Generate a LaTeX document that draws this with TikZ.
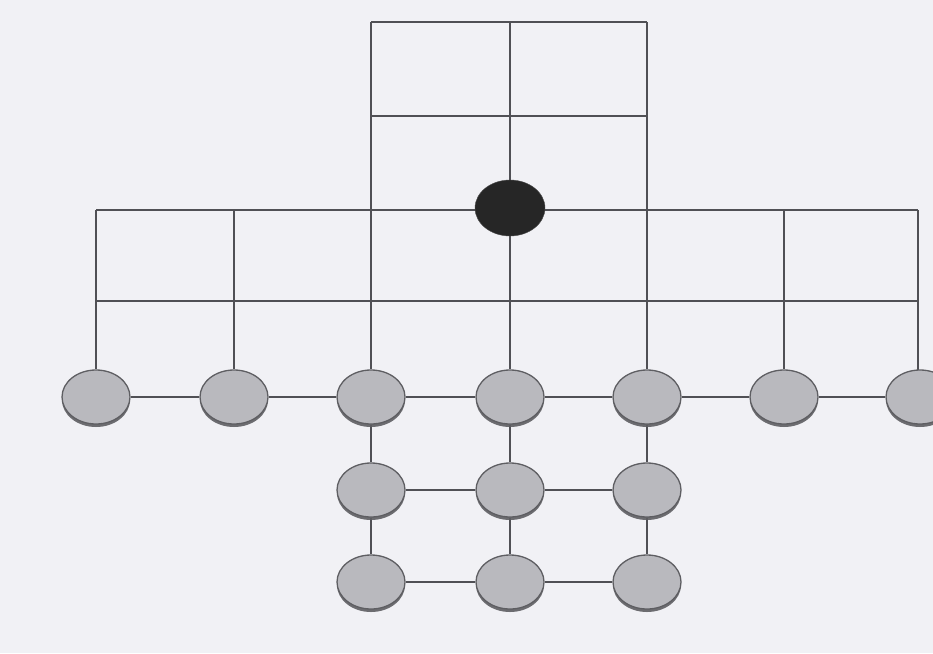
\documentclass[tikz,border=0pt]{standalone}
\usetikzlibrary{shapes.geometric,shadows,backgrounds}
\definecolor{bgc}{HTML}{F1F1F5}
\definecolor{linec}{HTML}{505055}
\definecolor{nodefill}{HTML}{B9B9BE}
\definecolor{nodeedge}{HTML}{5E5E62}
\begin{document}
\begin{tikzpicture}[x=1pt,y=-1pt,
  conn/.style={draw=linec,line width=1.1pt},
  graynode/.style={ellipse,minimum width=68pt,minimum height=54pt,inner sep=0pt,
    fill=nodefill,draw=nodeedge,line width=1.3pt,
    drop shadow={shadow xshift=0pt,shadow yshift=-3pt,fill=nodeedge,opacity=0.9}},
  blacknode/.style={ellipse,minimum width=70pt,minimum height=56pt,inner sep=0pt,
    fill=black!85,draw=black!70}]
\useasboundingbox (0,0) rectangle (933,653);
% nodes
\node[blacknode] (c) at (510,208) {};
\foreach \n/\x in {a1/96,a2/234,a3/371,a4/510,a5/647,a6/784,a7/920}
  \node[graynode] (\n) at (\x,397) {};
\foreach \n/\x in {b3/371,b4/510,b5/647}
  \node[graynode] (\n) at (\x,490) {};
\foreach \n/\x in {d3/371,d4/510,d5/647}
  \node[graynode] (\n) at (\x,582) {};
% coordinates of the frame
\coordinate (t3) at (371,22);
\coordinate (t4) at (510,22);
\coordinate (t5) at (647,22);
\coordinate (m3) at (371,116);
\coordinate (m5) at (647,116);
\foreach \i/\x in {1/96,2/234,3/371,4/510,5/647,6/784,7/918}{
  \coordinate (h\i) at (\x,210);
  \coordinate (k\i) at (\x,301);
}
\coordinate (e7) at (918,380);
\begin{scope}[on background layer]
\fill[bgc] (0,0) rectangle (933,653);
% top frame
\draw[conn] (t3) -- (t5);
\draw[conn] (m3) -- (m5);
\draw[conn] (t3) -- (a3);
\draw[conn] (t5) -- (a5);
\draw[conn] (t4) -- (c);
\draw[conn] (c) -- (a4);
% horizontal bars
\draw[conn] (h1) -- (h7);
\draw[conn] (k1) -- (k7);
\draw[conn] (h1) -- (a1);
\draw[conn] (h2) -- (a2);
\draw[conn] (h6) -- (a6);
\draw[conn] (h7) -- (e7);
% row links
\draw[conn] (a1) -- (a2);
\draw[conn] (a2) -- (a3);
\draw[conn] (a3) -- (a4);
\draw[conn] (a4) -- (a5);
\draw[conn] (a5) -- (a6);
\draw[conn] (a6) -- (a7);
\draw[conn] (a3) -- (b3);
\draw[conn] (a4) -- (b4);
\draw[conn] (a5) -- (b5);
\draw[conn] (b3) -- (b4);
\draw[conn] (b4) -- (b5);
\draw[conn] (b3) -- (d3);
\draw[conn] (b4) -- (d4);
\draw[conn] (b5) -- (d5);
\draw[conn] (d3) -- (d4);
\draw[conn] (d4) -- (d5);
\end{scope}
\end{tikzpicture}
\end{document}
